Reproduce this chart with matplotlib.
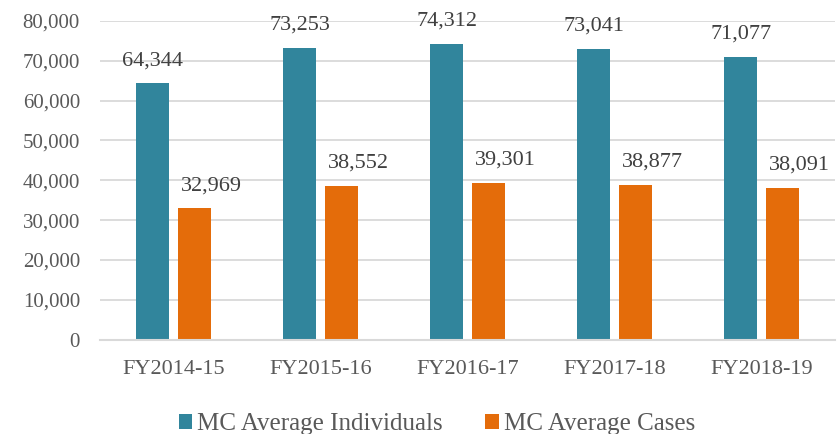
#!/usr/bin/env python3
"""Grouped bar chart: MC average individuals vs cases by fiscal year."""

import matplotlib
matplotlib.use('Agg')
import matplotlib.pyplot as plt
from matplotlib.ticker import FuncFormatter, MultipleLocator
import numpy as np

years = ['FY2014-15', 'FY2015-16', 'FY2016-17', 'FY2017-18', 'FY2018-19']
individuals = [64344, 73253, 74312, 73041, 71077]
cases = [32969, 38552, 39301, 38877, 38091]

TEAL = '#31859C'
ORANGE = '#E46C0A'
GRID = '#D9D9D9'
TICK_TEXT = '#595959'
LABEL_TEXT = '#404040'

plt.rcParams['font.family'] = ['Liberation Serif', 'DejaVu Serif']

fig = plt.figure(figsize=(8.4, 4.34), dpi=100)
ax = fig.add_axes([0.119, 0.2177, 0.8756, 0.7339])

x = np.arange(len(years))
width = 0.224
offset = 0.1425
bars_ind = ax.bar(x - offset, individuals, width, color=TEAL, zorder=3,
                  label='MC Average Individuals')
bars_case = ax.bar(x + offset, cases, width, color=ORANGE, zorder=3,
                   label='MC Average Cases')

for bar, value in zip(bars_ind, individuals):
    ax.annotate(f'{value:,}', (bar.get_x() + bar.get_width() / 2, value),
                xytext=(0, 13), textcoords='offset points',
                ha='center', va='baseline', fontsize=16, color=LABEL_TEXT)
for bar, value in zip(bars_case, cases):
    ax.annotate(f'{value:,}', (bar.get_x() + bar.get_width() / 2, value),
                xytext=(12, 13), textcoords='offset points',
                ha='center', va='baseline', fontsize=16, color=LABEL_TEXT)

ax.set_xlim(-0.5, len(years) - 0.5)
ax.set_ylim(0, 80000)
ax.yaxis.set_major_locator(MultipleLocator(10000))
ax.yaxis.set_major_formatter(FuncFormatter(lambda v, _: f'{int(v):,}'))
ax.set_xticks(x)
ax.set_xticklabels(years)

ax.grid(axis='y', color=GRID, linewidth=1.3, zorder=0)
for side in ('top', 'right', 'left'):
    ax.spines[side].set_visible(False)
ax.spines['bottom'].set_color(GRID)
ax.spines['bottom'].set_linewidth(1.5)
ax.spines['bottom'].set_zorder(4)

ax.tick_params(axis='y', length=0, pad=14.4, labelsize=15, labelcolor=TICK_TEXT)
ax.tick_params(axis='x', length=0, pad=14.5, labelsize=16, labelcolor=TICK_TEXT)

fig.legend(loc='center', bbox_to_anchor=(0.52, 0.023), ncol=2, frameon=False,
           fontsize=18, labelcolor=TICK_TEXT, handlelength=0.54, handleheight=0.54,
           handletextpad=0.2, columnspacing=1.7, borderpad=0)

fig.savefig('out.png', dpi=100)
